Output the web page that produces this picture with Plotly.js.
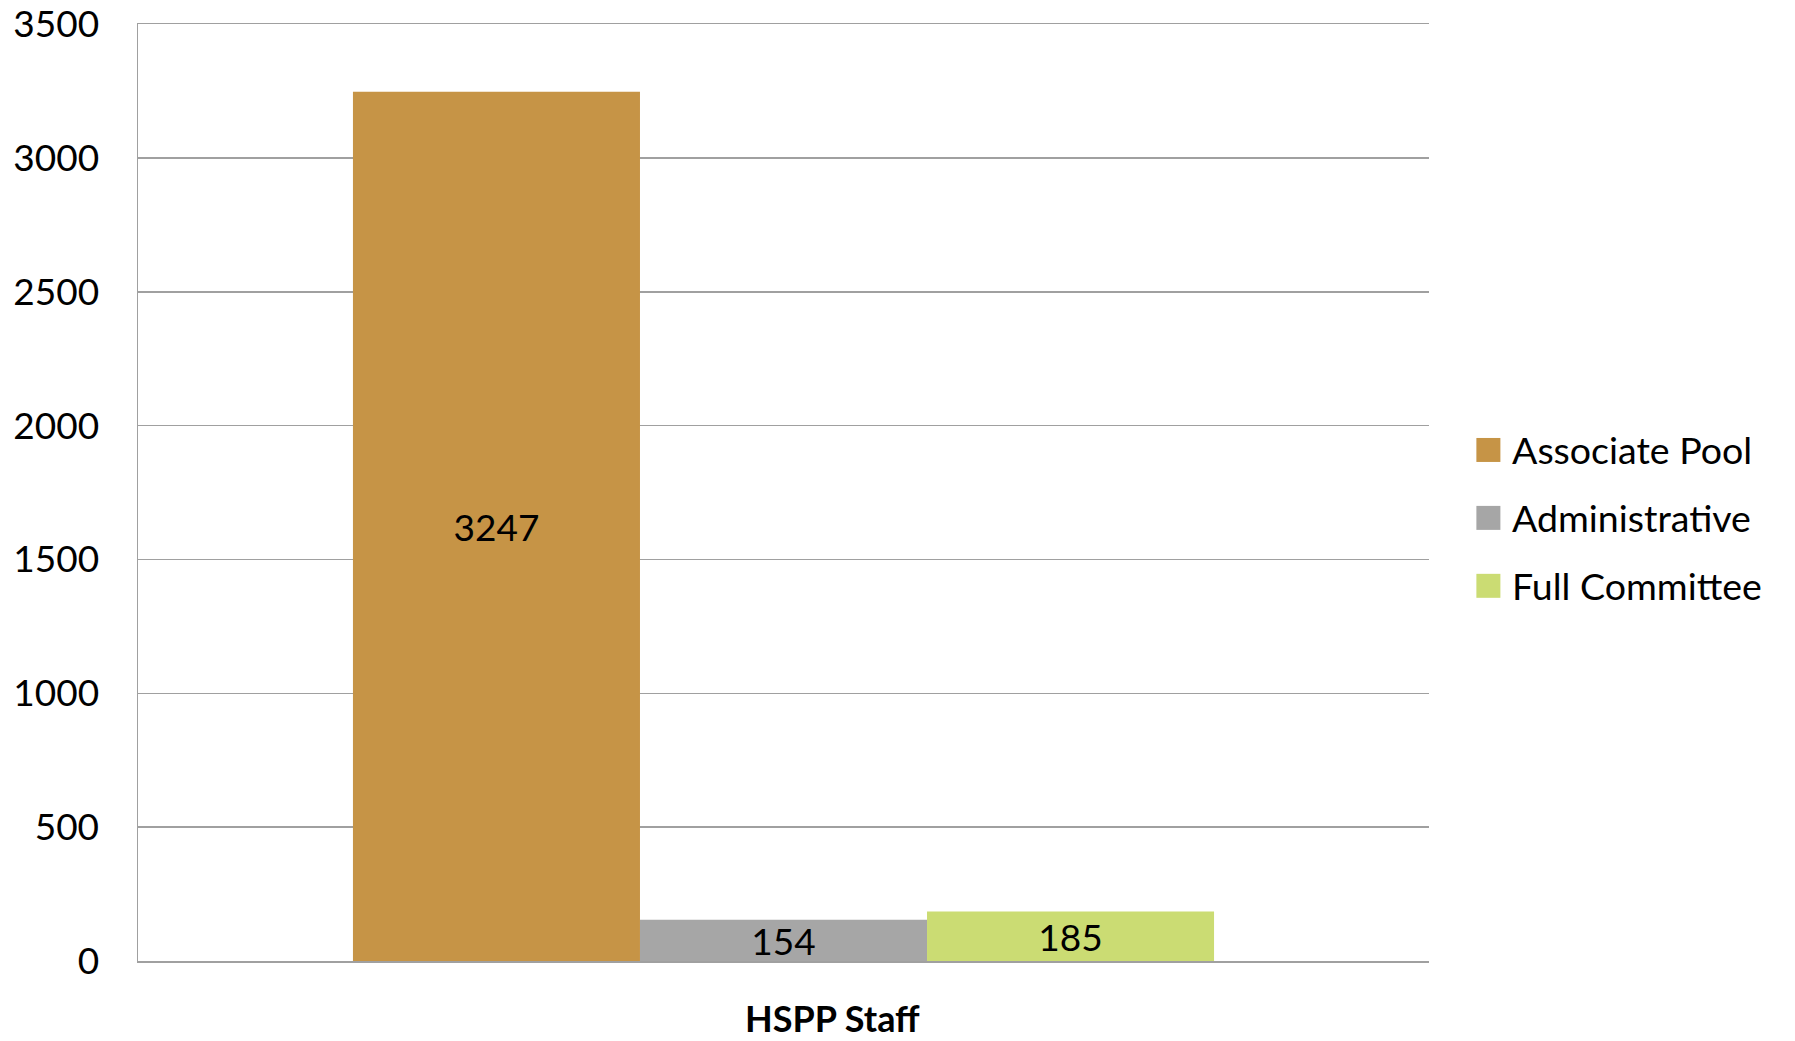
<!DOCTYPE html>
<html>
<head>
<meta charset="utf-8">
<script src="https://cdn.plot.ly/plotly-3.0.1.min.js"></script>
<style>html,body{margin:0;padding:0;background:#fff;}#chart{width:1795px;height:1041px;}</style>
</head>
<body>
<div id="chart"></div>
<script>
const categories = ["HSPP Staff"];
const seriesNames = ["Associate Pool", "Administrative", "Full Committee"];
const associatePool = [3247];
const administrative = [154];
const fullCommittee = [185];
const seriesValues = [associatePool, administrative, fullCommittee];
const seriesColors = ["#C69446", "#A6A6A6", "#CBDC73"];
const yTickValues = [0, 500, 1000, 1500, 2000, 2500, 3000, 3500];

const FONT = "Lato, 'Open Sans', sans-serif";

const traces = seriesNames.map((name, i) => ({
  type: "bar",
  name: name,
  x: categories,
  y: seriesValues[i],
  text: seriesValues[i].map(String),
  textposition: "inside",
  insidetextanchor: "middle",
  constraintext: "none",
  textfont: {family: FONT, size: 37, color: "#000"},
  marker: {color: seriesColors[i], line: {width: 0}},
  showlegend: false,
  hoverinfo: "none"
}));

const shapes = [];
const annotations = [];
const legendY0 = 0.5454, legendStep = 0.0725;
seriesNames.forEach((name, i) => {
  const yc = legendY0 - i * legendStep;
  shapes.push({type: "rect", xref: "paper", yref: "paper",
    x0: 1.0367, x1: 1.0553, y0: yc - 0.0128, y1: yc + 0.0128,
    fillcolor: seriesColors[i], line: {width: 0}});
  annotations.push({xref: "paper", yref: "paper", x: 1.0626, y: yc,
    xanchor: "left", yanchor: "middle", showarrow: false, text: name,
    font: {family: FONT, size: 37.5, color: "#000"}});
});
annotations.push({xref: "paper", yref: "paper", x: 0.5378, y: -0.0605,
  xanchor: "center", yanchor: "middle", showarrow: false,
  text: "<b>" + categories[0] + "</b>", font: {family: FONT, size: 36, color: "#000"}});

const layout = {
  width: 1795, height: 1041,
  margin: {l: 138, r: 366, t: 24, b: 80, pad: 0},
  paper_bgcolor: "#fff", plot_bgcolor: "#fff",
  barmode: "group", bargap: 0.333, bargroupgap: 0,
  font: {family: FONT, color: "#000"},
  xaxis: {showticklabels: false, showgrid: false, zeroline: false,
    showline: true, mirror: true, linecolor: "#A0A0A0", linewidth: 1.5, ticks: "", fixedrange: true},
  yaxis: {range: [0, 3500.5], tickvals: yTickValues, ticktext: yTickValues.map(String),
    showgrid: true, gridcolor: "#A0A0A0", gridwidth: 1.5,
    zeroline: false, showline: true, linecolor: "#A0A0A0", linewidth: 1.5,
    ticks: "", ticklabelstandoff: 30,
    tickfont: {family: FONT, size: 37, color: "#000"}, fixedrange: true},
  shapes: shapes,
  annotations: annotations,
  showlegend: false
};

Plotly.newPlot("chart", traces, layout, {displayModeBar: false, staticPlot: true});
</script>
</body>
</html>
